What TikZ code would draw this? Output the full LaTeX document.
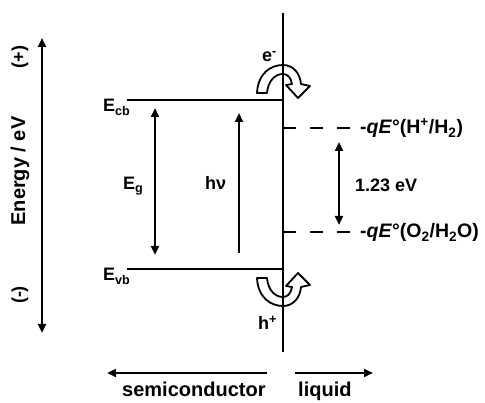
\documentclass[tikz,border=0pt]{standalone}
\usepackage{fontspec}
\setmainfont{Liberation Sans}
\usetikzlibrary{arrows.meta}
\tikzset{
    lvl/.style = {line width=2.4pt},
    dash lvl/.style = {line width=2.4pt, dash pattern=on 13pt off 14pt},
    arr/.style = {line width=2.6pt, -{Triangle[length=9pt,width=8pt]}},
    darr/.style = {line width=2.6pt, {Triangle[length=9pt,width=8pt]}-{Triangle[length=9pt,width=8pt]}},
    lbl/.style = {font=\fontsize{18}{20}\selectfont\bfseries, inner sep=0pt},
    big lbl/.style = {font=\fontsize{20}{22}\selectfont\bfseries, inner sep=0pt},
    pot lbl/.style = {font=\fontsize{19.5}{22}\selectfont\bfseries, inner sep=0pt},
    transfer/.pic = {
        \draw[line width=1.8pt, line join=round]
            (-26, 28) .. controls (-25, 8) and (-12, 0) .. (0, 0)
            .. controls (10, 0) and (17, 8) .. (18, 19) -- (27, 21)
            -- (15, 33) -- (3, 20) -- (9, 19)
            .. controls (8, 12) and (4, 9) .. (0, 9)
            .. controls (-8, 9) and (-15, 16) .. (-16, 28) -- cycle;
    }
}
\begin{document}
\begin{tikzpicture}
    [x=1pt, y=-1pt]
    \useasboundingbox (0, 0) rectangle (485, 403);
    \coordinate (it) at (283, 13);
    \coordinate (ib) at (283, 352);
    \coordinate (cbl) at (127, 100);
    \coordinate (cbr) at (283, 100);
    \coordinate (vbl) at (127, 269);
    \coordinate (vbr) at (283, 269);
    \coordinate (hl) at (283, 128);
    \coordinate (hr) at (356, 128);
    \coordinate (ol) at (283, 232);
    \coordinate (or) at (356, 232);
    \coordinate (gt) at (155, 108);
    \coordinate (gb) at (155, 255);
    \coordinate (pt) at (239, 113);
    \coordinate (pb) at (239, 253);
    \coordinate (rt) at (339, 142);
    \coordinate (rb) at (339, 225);
    \coordinate (et) at (42, 38);
    \coordinate (eb) at (42, 333);
    \coordinate (sl) at (107, 373);
    \coordinate (sr) at (267, 373);
    \coordinate (ll) at (295, 373);
    \coordinate (lr) at (373, 373);
    \node[lbl, anchor=base west] (ecb) at (103, 112) {E\textsubscript{cb}};
    \node[lbl, anchor=base west] (evb) at (103, 281) {E\textsubscript{vb}};
    \node[lbl, anchor=base west] (eg) at (123, 190) {E\textsubscript{g}};
    \node[lbl, anchor=base west] (hnu) at (205, 190) {hν};
    \node[lbl, anchor=base west] (gap) at (355, 192) {1.23 eV};
    \node[pot lbl, anchor=base west] (hh) at (360, 134)
        {-\textit{qE}°(H\textsuperscript{+}/H\textsubscript{2})};
    \node[pot lbl, anchor=base west] (oo) at (360, 238)
        {-\textit{qE}°(O\textsubscript{2}/H\textsubscript{2}O)};
    \node[lbl, anchor=base west] (el) at (262, 62) {e\textsuperscript{-}};
    \node[lbl, anchor=base west] (ho) at (258, 330) {h\textsuperscript{+}};
    \node[big lbl, rotate=90] (en) at (20, 171) {Energy / eV};
    \node[lbl, rotate=90] (plus) at (20, 57) {(+)};
    \node[lbl, rotate=90] (minus) at (20, 295) {(-)};
    \node[big lbl, anchor=base west] (sc) at (122, 397) {semiconductor};
    \node[big lbl, anchor=base west] (liq) at (298, 397) {liquid};
    \draw[lvl] (it) -- (ib);
    \draw[lvl] (cbl) -- (cbr);
    \draw[lvl] (vbl) -- (vbr);
    \draw[dash lvl] (hl) -- (hr);
    \draw[dash lvl] (ol) -- (or);
    \draw[darr] (gt) -- (gb);
    \draw[arr] (pb) -- (pt);
    \draw[darr] (rt) -- (rb);
    \draw[darr] (et) -- (eb);
    \draw[arr] (sr) -- (sl);
    \draw[arr] (ll) -- (lr);
    \pic at (283, 65) {transfer};
    \pic[yscale=-1] at (283, 306) {transfer};
\end{tikzpicture}
\end{document}
